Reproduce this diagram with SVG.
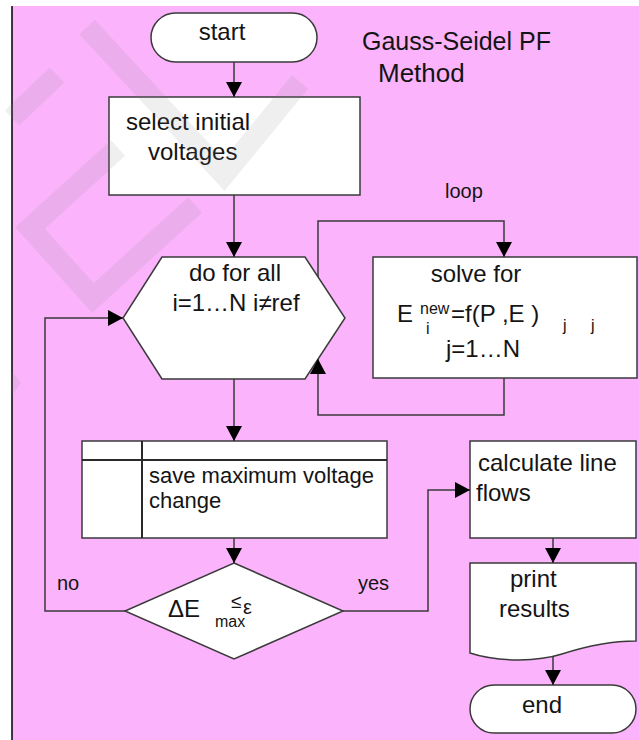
<svg xmlns="http://www.w3.org/2000/svg" width="639" height="740" viewBox="0 0 639 740">
<defs>
<style>
.t{font-family:"Liberation Sans",Arial,sans-serif;font-size:24px;fill:#141414}
.s{font-size:20px}
.m{font-size:22px}
.sm{font-size:16px}
.box{fill:#fff;stroke:#3a3a3a;stroke-width:1.5}
.ln{fill:none;stroke:#3a3a3a;stroke-width:1.5}
.wm{fill:none;stroke:#808080;stroke-opacity:0.13;stroke-width:21}
</style>
<marker id="ah" markerUnits="userSpaceOnUse" markerWidth="16" markerHeight="16" refX="15" refY="8" orient="auto">
<path d="M0,0 L15,8 L0,16 z" fill="#000"/>
</marker>
</defs>
<rect x="0" y="0" width="639" height="740" fill="#fff"/>
<rect x="12" y="6" width="627" height="734" fill="#fbb4fb"/>
<line x1="12" y1="6" x2="12" y2="740" stroke="#000" stroke-width="1.5"/>

<g id="title">
<text class="t" x="362" y="50" style="font-size:25px">Gauss-Seidel PF</text>
<text class="t" x="378" y="82" style="font-size:26px">Method</text>
</g>

<g id="start">
<rect class="box" x="151" y="13" width="166" height="49" rx="24.5"/>
<text class="t" x="222" y="40" text-anchor="middle">start</text>
</g>

<g id="select">
<rect class="box" x="109" y="97" width="251" height="98"/>
<text class="t" x="126" y="130">select initial</text>
<text class="t" x="148" y="160">voltages</text>
</g>

<g id="loopfor">
<polygon class="box" points="162,257 305,257 345,318 305,379 162,379 123,318"/>
<text class="t" x="235" y="281" text-anchor="middle">do for all</text>
<text class="t" x="236" y="311" text-anchor="middle">i=1…N i≠ref</text>
</g>

<g id="solve">
<rect class="box" x="373" y="257" width="264" height="121"/>
<text class="t" x="476" y="282" text-anchor="middle">solve for</text>
<text class="t" x="397" y="322">E</text>
<text class="t sm" x="420" y="314">new</text>
<text class="t sm" x="426" y="334">i</text>
<text class="t" x="451" y="322">=f(P ,E )</text>
<text class="t sm" x="563" y="331">j</text>
<text class="t sm" x="591" y="331">j</text>
<text class="t" x="446" y="357">j=1…N</text>
</g>

<g id="save">
<rect class="box" x="82" y="441" width="305" height="97"/>
<line x1="82" y1="460" x2="387" y2="460" stroke="#2a2a2a" stroke-width="2"/>
<line x1="142" y1="441" x2="142" y2="538" stroke="#2a2a2a" stroke-width="2"/>
<text class="t m" x="149" y="483">save maximum voltage</text>
<text class="t m" x="149" y="508">change</text>
</g>

<g id="decision">
<polygon class="box" points="234,563 343,611 234,659 125,611"/>
<text class="t" x="168" y="617">ΔE</text>
<text class="t sm" x="215" y="627">max</text>
<text class="t" x="231" y="608" style="font-size:19px">≤</text>
<text class="t" x="243" y="614" style="font-size:20px">ε</text>
</g>

<g id="calc">
<rect class="box" x="470" y="441" width="166" height="97"/>
<text class="t" x="478" y="471">calculate line</text>
<text class="t" x="476" y="501">flows</text>
</g>

<g id="print">
<path class="box" d="M470,563 L636,563 L636,641 C615,641 590,645 562,654 C540,661 500,663 470,653 Z"/>
<text class="t" x="510" y="587">print</text>
<text class="t" x="499" y="617">results</text>
</g>

<g id="end">
<rect class="box" x="470" y="685" width="166" height="48" rx="24"/>
<text class="t" x="542" y="713" text-anchor="middle">end</text>
</g>

<g id="connectors">
<line class="ln" x1="234" y1="62" x2="234" y2="97" marker-end="url(#ah)"/>
<line class="ln" x1="234" y1="195" x2="234" y2="257" marker-end="url(#ah)"/>
<polyline class="ln" points="318,277 318,221 504,221 504,257" marker-end="url(#ah)"/>
<polyline class="ln" points="504,378 504,415 318,415 318,359" marker-end="url(#ah)"/>
<line class="ln" x1="234" y1="379" x2="234" y2="441" marker-end="url(#ah)"/>
<line class="ln" x1="234" y1="538" x2="234" y2="563" marker-end="url(#ah)"/>
<polyline class="ln" points="125,611 45,611 45,318 123,318" marker-end="url(#ah)"/>
<polyline class="ln" points="343,611 428,611 428,490 470,490" marker-end="url(#ah)"/>
<line class="ln" x1="553" y1="538" x2="553" y2="563" marker-end="url(#ah)"/>
<line class="ln" x1="553" y1="657" x2="553" y2="685" marker-end="url(#ah)"/>
<text class="t s" x="445" y="198">loop</text>
<text class="t s" x="57" y="590">no</text>
<text class="t s" x="358" y="590">yes</text>
</g>

<g id="watermark">
<polyline class="wm" points="87,27 224,175 300,82"/>
<line class="wm" x1="57" y1="75" x2="12" y2="118"/>
<polyline class="wm" points="118,148 30,228 93,298 195,205"/>
<polygon points="12,372 21,383 12,395" fill="#808080" fill-opacity="0.13"/>
</g>
</svg>
